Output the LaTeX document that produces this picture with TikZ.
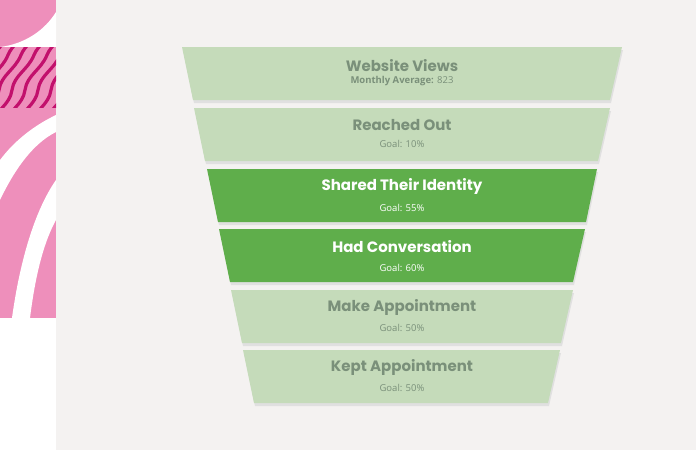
\documentclass[tikz,border=0pt]{standalone}
\usepackage{fontspec}
\setmainfont{Open Sans}
\newfontfamily\pop{Poppins}
\definecolor{bg}{HTML}{F4F2F1}
\definecolor{pink}{HTML}{EE8FBB}
\definecolor{mag}{HTML}{C2106C}
\definecolor{lg}{HTML}{C5DBBA}
\definecolor{dg}{HTML}{5FAE4B}
\definecolor{lt}{HTML}{7A907A}
\tikzset{
 title/.style={font=\pop\bfseries\fontsize{15}{16}\selectfont, inner sep=0pt},
 sub/.style={font=\fontsize{9.5}{10}\selectfont, inner sep=0pt}
}
\begin{document}
\begin{tikzpicture}[x=1pt,y=-1pt]
\useasboundingbox (0,0) rectangle (696,450);
\fill[bg] (0,0) rectangle (696,450);
\fill[white] (0,0) rectangle (56,450);
% left strip
\begin{scope}
\clip (0,0) rectangle (56,47);
\fill[pink] (0,0) rectangle (56,47);
\fill[white] (0,47) .. controls (25,44) and (45,30) .. (56,12) -- (56,47) -- cycle;
\end{scope}
\begin{scope}
\clip (0,47) rectangle (56,108);
\fill[pink] (0,47) rectangle (56,108);
\foreach \i in {-4,...,6}{
 \draw[mag,line width=3.2pt] ({\i*13-10},125) .. controls ({\i*13-4},110) and ({\i*13+10},105) .. ({\i*13+12},90)
   .. controls ({\i*13+14},75) and ({\i*13+28},70) .. ({\i*13+34},55) .. controls ({\i*13+38},45) and ({\i*13+48},40) .. ({\i*13+52},30);
}
\end{scope}
\begin{scope}
\clip (0,108) rectangle (56,318);
\fill[pink] (0,108) rectangle (56,318);
\fill[white] (0,160) .. controls (15,140) and (35,125) .. (56,115) -- (56,132) .. controls (30,145) and (12,175) .. (0,200) -- cycle;
\fill[white] (56,180) .. controls (35,210) and (20,260) .. (12,318) -- (30,318) .. controls (36,270) and (45,240) .. (56,220) -- cycle;
\end{scope}
% funnel
\foreach \y/\a/\b/\c/\d/\col in {47/182/622/193/610/lg,108/194/610/205/598/lg,169/207/597/218/586/dg,229/219/585/230/573/dg,290/231/573/242/561/lg,350/243/560/254/548/lg}{
 \fill[black!12] (\a+1,\y+3) -- (\b+1,\y+3) -- (\d+1,\y+56) -- (\c+1,\y+56) -- cycle;
 \fill[\col] (\a,\y) -- (\b,\y) -- (\d,\y+53) -- (\c,\y+53) -- cycle;
}
\node[title,text=lt] (t1) at (402,66) {Website Views};
\node[sub,text=lt] (s1) at (402,81) {\textbf{Monthly Average:} 823};
\node[title,text=lt] (t2) at (402,125) {Reached Out};
\node[sub,text=lt] (s2) at (402,144) {Goal: 10\%};
\node[title,text=white] (t3) at (402,186) {Shared Their Identity};
\node[sub,text=white] (s3) at (402,208) {Goal: 55\%};
\node[title,text=white] (t4) at (402,247) {Had Conversation};
\node[sub,text=white] (s4) at (402,268) {Goal: 60\%};
\node[title,text=lt] (t5) at (402,307) {Make Appointment};
\node[sub,text=lt] (s5) at (402,328) {Goal: 50\%};
\node[title,text=lt] (t6) at (402,367) {Kept Appointment};
\node[sub,text=lt] (s6) at (402,388) {Goal: 50\%};
\end{tikzpicture}
\end{document}
